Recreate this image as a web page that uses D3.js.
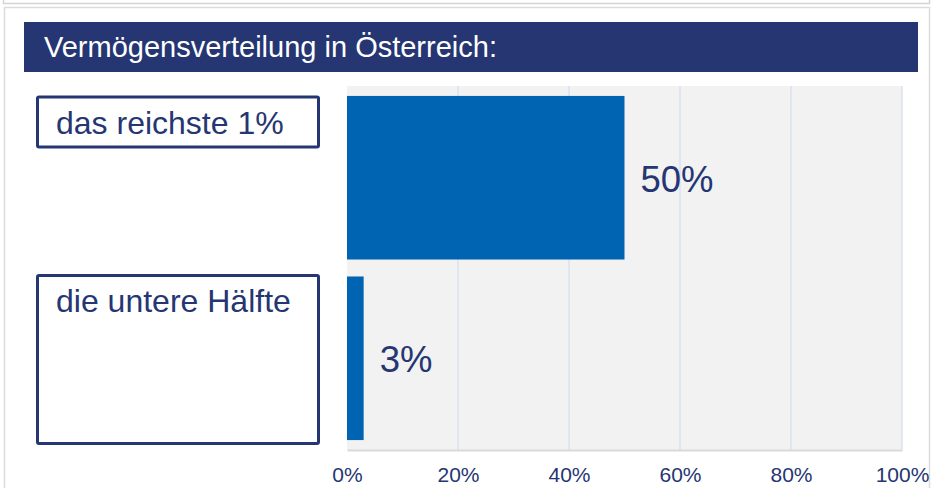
<!DOCTYPE html>
<html lang="de">
<head>
<meta charset="utf-8">
<title>Vermögensverteilung in Österreich</title>
<script src="https://d3js.org/d3.v7.min.js"></script>
<style>
  body { margin: 0; background: #fff; font-family: "Liberation Sans", Arial, sans-serif; }
  svg { display: block; }
</style>
</head>
<body>
<div id="chart"></div>
<script>
// data
var titleText = "Vermögensverteilung in Österreich:";
var categories = ["das reichste 1%", "die untere Hälfte"];
var shares = [50, 3];
var tickValues = [0, 20, 40, 60, 80, 100];

// layout
var W = 933, H = 488;
var plot = {left: 347, right: 902, top: 86, bottom: 450};
var navy = "#253672", barBlue = "#0064b3";
var labelBoxHeights = [50, 168];
var labelBoxOffsets = [1, -1];

var svg = d3.select("#chart").append("svg")
  .attr("width", W).attr("height", H);

// outer frames
svg.append("rect").attr("x", 3.5).attr("y", -10).attr("width", 926).attr("height", 13.5)
  .attr("fill", "none").attr("stroke", "#d4d4d4").attr("stroke-width", 1.5);
svg.append("rect").attr("x", 4.5).attr("y", 7.5).attr("width", 925).attr("height", 500)
  .attr("fill", "none").attr("stroke", "#dcdcdc").attr("stroke-width", 1.5);

// title bar
svg.append("rect").attr("x", 24).attr("y", 22).attr("width", 894).attr("height", 50)
  .attr("fill", navy);
svg.append("text").attr("x", 44).attr("y", 57)
  .attr("fill", "#fff").attr("font-size", 29)
  .text(titleText);

var x = d3.scaleLinear().domain([0, 100]).range([plot.left, plot.right]);
var y = d3.scaleBand().domain(categories).range([plot.top, plot.bottom])
  .paddingInner(0.094).paddingOuter(0.055);

// plot background
svg.append("rect").attr("x", x(0)).attr("y", plot.top)
  .attr("width", x(100) - x(0)).attr("height", plot.bottom - plot.top)
  .attr("fill", "#f2f2f2");

// gridlines
svg.append("g").selectAll("line").data(tickValues.slice(1)).join("line")
  .attr("x1", d => x(d)).attr("x2", d => x(d))
  .attr("y1", plot.top).attr("y2", plot.bottom)
  .attr("stroke", "#d8e0f1").attr("stroke-width", 1.5);

// bars
var rows = categories.map((c, i) => ({cat: c, v: shares[i], i: i}));
svg.append("g").selectAll("rect").data(rows).join("rect")
  .attr("x", x(0)).attr("y", d => y(d.cat))
  .attr("width", d => x(d.v) - x(0)).attr("height", y.bandwidth())
  .attr("fill", barBlue);

// value labels
svg.append("g").selectAll("text").data(rows).join("text")
  .attr("x", d => x(d.v) + 16).attr("y", d => y(d.cat) + y.bandwidth() / 2 + 14)
  .attr("fill", navy).attr("font-size", 36.5)
  .text(d => d.v + "%");

// category label boxes
var lab = svg.append("g").selectAll("g").data(rows).join("g");
lab.append("rect")
  .attr("x", 37.5).attr("y", d => y(d.cat) + labelBoxOffsets[d.i])
  .attr("width", 281).attr("height", d => labelBoxHeights[d.i])
  .attr("rx", 1.5)
  .attr("fill", "#fff").attr("stroke", navy).attr("stroke-width", 3);
lab.append("text")
  .attr("x", 56).attr("y", d => y(d.cat) + labelBoxOffsets[d.i] + 37)
  .attr("fill", navy).attr("font-size", 32)
  .text(d => d.cat);

// x axis
var axis = svg.append("g").attr("transform", "translate(0," + plot.bottom + ")")
  .call(d3.axisBottom(x).tickValues(tickValues).tickFormat(d => d + "%")
    .tickSize(0).tickPadding(17));
axis.select(".domain").attr("stroke", "#d9d9d9").attr("stroke-width", 2);
axis.selectAll("text").attr("fill", navy).attr("font-size", 21)
  .attr("font-family", "'Liberation Sans', Arial, sans-serif");
</script>
</body>
</html>
